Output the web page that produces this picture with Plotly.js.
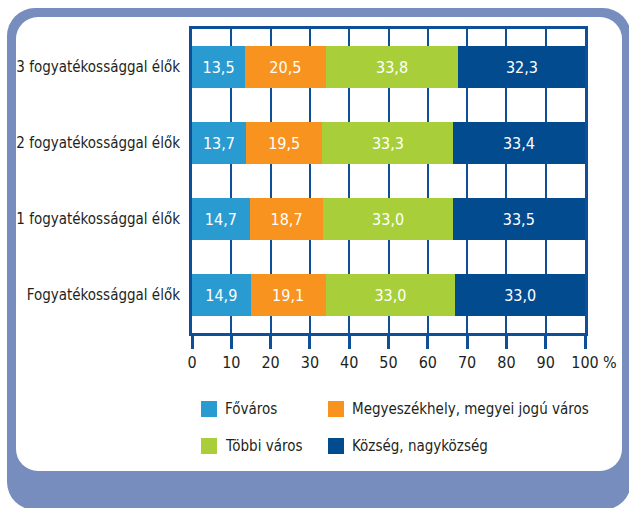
<!DOCTYPE html>
<html>
<head>
<meta charset="utf-8">
<script src="https://cdn.plot.ly/plotly-3.0.1.min.js"></script>
<style>
  html, body { margin: 0; padding: 0; background: #ffffff; }
  #wrap { position: relative; width: 629px; height: 508px; overflow: hidden; background: #ffffff; }
  #outer { position: absolute; left: 7px; top: 8px; width: 624px; height: 502px; border-radius: 28px; background: #768dbd; }
  #inner { position: absolute; left: 16px; top: 17px; width: 606px; height: 454px; border-radius: 22px; background: #ffffff; }
  #chart { position: absolute; left: 0; top: 0; width: 629px; height: 508px; }
  svg text { font-stretch: condensed !important; }
</style>
</head>
<body>
<div id="wrap">
  <div id="outer"></div>
  <div id="inner"></div>
  <div id="chart"></div>
</div>
<script>
// ---- data ----
const categories = ["Fogyatékossággal élők", "1 fogyatékossággal élők", "2 fogyatékossággal élők", "3 fogyatékossággal élők"];
const seriesNames = ["Főváros", "Megyeszékhely, megyei jogú város", "Többi város", "Község, nagyközség"];
const fovaros = [14.9, 14.7, 13.7, 13.5];
const megyeszekhely = [19.1, 18.7, 19.5, 20.5];
const tobbiVaros = [33.0, 33.0, 33.3, 33.8];
const kozseg = [33.0, 33.5, 33.4, 32.3];
const tickValues = [0, 10, 20, 30, 40, 50, 60, 70, 80, 90, 100];
const tickLabels = ["0", "10", "20", "30", "40", "50", "60", "70", "80", "90", "100"];
const unitLabel = "%";

// ---- style ----
const colors = ["#2a9bd1", "#f7931e", "#a8cf3a", "#034b8f"];
const gridColor = "#0f4f98";
const FONT = "'DejaVu Sans', sans-serif";
const FS = 15;
const W = 629, H = 508;
const M = {l: 192, r: 44, t: 29, b: 175};
const pw = W - M.l - M.r, ph = H - M.t - M.b;
const px2x = p => (p - M.l) / pw;
const px2y = p => (H - M.b - p) / ph;

const allSeries = [fovaros, megyeszekhely, tobbiVaros, kozseg];
const fmt = v => v.toFixed(1).replace('.', ',');

const traces = allSeries.map((vals, i) => ({
  type: 'bar',
  orientation: 'h',
  name: seriesNames[i],
  y: categories,
  x: vals,
  text: vals.map(fmt),
  textposition: 'inside',
  insidetextanchor: 'middle',
  constraintext: 'none',
  textfont: {family: FONT, size: 16, color: '#ffffff'},
  marker: {color: colors[i], line: {width: 0}},
  hoverinfo: 'skip',
  showlegend: false
}));

// legend built from series names / colors
const legendPos = [
  {sx: 201, tx: 223, cy: 409},
  {sx: 328, tx: 350, cy: 409},
  {sx: 201, tx: 223, cy: 446},
  {sx: 328, tx: 350, cy: 446}
];
const shapes = [];
const annotations = [];
seriesNames.forEach((n, i) => {
  const p = legendPos[i];
  shapes.push({
    type: 'rect', xref: 'paper', yref: 'paper',
    x0: px2x(p.sx), x1: px2x(p.sx + 16),
    y0: px2y(p.cy + 8), y1: px2y(p.cy - 8),
    fillcolor: colors[i], line: {width: 0}
  });
  annotations.push({
    xref: 'paper', yref: 'paper', x: px2x(p.tx), y: px2y(p.cy),
    xanchor: 'left', yanchor: 'middle', showarrow: false,
    text: n, font: {family: FONT, size: FS, color: '#231f20'}
  });
});
annotations.push({
  xref: 'paper', yref: 'paper', x: 1, y: px2y(362),
  xanchor: 'left', yanchor: 'middle', xshift: 16, showarrow: false,
  text: unitLabel, font: {family: FONT, size: 16, color: '#231f20'}
});

const layout = {
  width: W, height: H,
  margin: M,
  paper_bgcolor: 'rgba(0,0,0,0)',
  plot_bgcolor: '#ffffff',
  barmode: 'stack',
  bargap: 0.447,
  showlegend: false,
  xaxis: {
    range: [0, 100],
    tickmode: 'array', tickvals: tickValues, ticktext: tickLabels,
    showgrid: true, gridcolor: gridColor, gridwidth: 2,
    zeroline: false,
    showline: true, linecolor: gridColor, linewidth: 3, mirror: true,
    ticks: 'outside', ticklen: 13, tickwidth: 3, tickcolor: gridColor,
    tickfont: {family: FONT, size: 16, color: '#231f20'},
    fixedrange: true
  },
  yaxis: {
    type: 'category',
    categoryorder: 'array', categoryarray: categories,
    range: [-0.5, 3.5],
    showgrid: false, zeroline: false,
    showline: true, linecolor: gridColor, linewidth: 3, mirror: true,
    ticks: '', ticklabelstandoff: 6,
    tickfont: {family: FONT, size: FS, color: '#231f20'},
    fixedrange: true
  },
  shapes: shapes,
  annotations: annotations,
  font: {family: FONT}
};

Plotly.newPlot('chart', traces, layout, {displayModeBar: false, staticPlot: true});
</script>
</body>
</html>
